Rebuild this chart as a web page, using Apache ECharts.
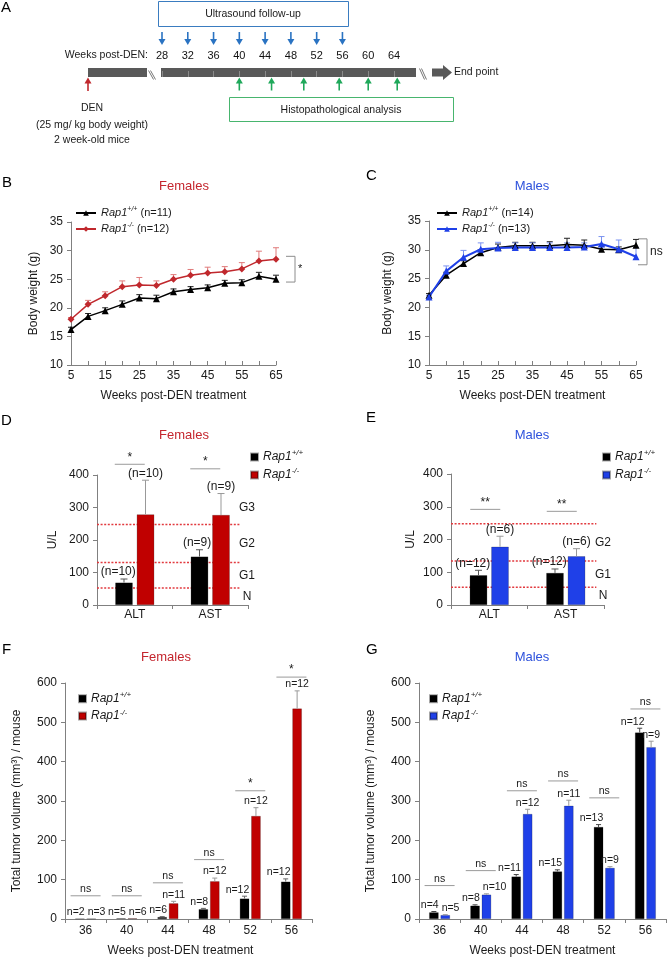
<!DOCTYPE html>
<html><head><meta charset="utf-8">
<script src="https://cdn.jsdelivr.net/npm/echarts@6/dist/echarts.min.js"></script>
<style>html,body{margin:0;padding:0;background:#fff}#c{width:667px;height:959px}</style>
</head><body><div id="c"></div>
<script>
// ---------------- DATA ----------------
const timelineWeeks = [28, 32, 36, 40, 44, 48, 52, 56, 60, 64];
const ultrasoundWeeks = [28, 32, 36, 40, 44, 48, 52, 56];
const histoWeeks = [40, 45, 50, 55.5, 60, 64.5];

const bwWeeks = [5, 10, 15, 20, 25, 30, 35, 40, 45, 50, 55, 60, 65];
const femWT = [16.2, 18.5, 19.5, 20.6, 21.7, 21.6, 22.8, 23.2, 23.5, 24.3, 24.4, 25.5, 25.0];
const femWTErr = [0.4, 0.5, 0.5, 0.6, 0.6, 0.6, 0.5, 0.5, 0.5, 0.5, 0.5, 0.7, 0.7];
const femKO = [18.0, 20.6, 22.1, 23.7, 24.0, 23.9, 25.0, 25.7, 26.1, 26.3, 26.8, 28.2, 28.5];
const femKOErr = [0.3, 0.7, 0.7, 1.0, 1.3, 0.8, 0.8, 1.0, 1.0, 0.9, 1.1, 1.7, 2.0];
const maleWT = [22.1, 25.6, 27.6, 29.5, 30.4, 30.7, 30.7, 30.7, 30.9, 30.8, 30.1, 30.0, 30.8];
const maleWTErr = [0.3, 0.5, 0.5, 0.5, 0.6, 0.6, 0.6, 0.7, 1.1, 0.9, 0.5, 0.5, 1.0];
const maleKO = [21.8, 26.3, 28.7, 30.1, 30.3, 30.4, 30.4, 30.4, 30.4, 30.5, 31.0, 30.1, 28.8];
const maleKOErr = [0.3, 0.9, 1.2, 1.1, 1.0, 0.8, 0.8, 0.8, 0.8, 0.7, 1.3, 1.6, 1.6];
const femBracket = [29.0, 24.5];
const maleBracket = [31.9, 27.4];

const liverCats = ['ALT', 'AST'];
const femLiverWT = [69, 149], femLiverWTErr = [11, 21];
const femLiverKO = [279, 277], femLiverKOErr = [105, 66];
const femLiverWTn = ['(n=10)', '(n=9)'], femLiverKOn = ['(n=10)', '(n=9)'];
const maleLiverWT = [91, 98], maleLiverWTErr = [15, 12];
const maleLiverKO = [178, 149], maleLiverKOErr = [32, 23];
const maleLiverWTn = ['(n=12)', '(n=12)'], maleLiverKOn = ['(n=6)', '(n=6)'];
const femGrades = [52, 131, 248], femGradeNames = ['N', 'G1', 'G2', 'G3'];
const maleGrades = [54, 134, 248], maleGradeNames = ['N', 'G1', 'G2'];
const femLiverSig = ['*', '*'], femLiverSigLevel = [433, 419];
const maleLiverSig = ['**', '**'], maleLiverSigLevel = [292, 286];

const tumorWeeks = ['36', '40', '44', '48', '52', '56'];
const femTumorWT = [1, 2, 5, 25, 52, 95], femTumorWTErr = [0, 0, 1, 2, 6, 7];
const femTumorKO = [1, 2, 40, 96, 262, 535], femTumorKOErr = [0, 0, 5, 8, 21, 45];
const femTumorWTn = ['n=2', 'n=5', 'n=6', 'n=8', 'n=12', 'n=12'];
const femTumorKOn = ['n=3', 'n=6', 'n=11', 'n=12', 'n=12', 'n=12'];
const femTumorSig = ['ns', 'ns', 'ns', 'ns', '*', '*'];
const femTumorSigLevel = [59, 59, 92, 151, 326, 615];
const maleTumorWT = [17, 34, 108, 121, 234, 474], maleTumorWTErr = [2, 2, 5, 4, 6, 11];
const maleTumorKO = [10, 62, 267, 288, 130, 437], maleTumorKOErr = [1, 2, 12, 14, 3, 15];
const maleTumorWTn = ['n=4', 'n=8', 'n=11', 'n=15', 'n=13', 'n=12'];
const maleTumorKOn = ['n=5', 'n=10', 'n=12', 'n=11', 'n=9', 'n=9'];
const maleTumorSig = ['ns', 'ns', 'ns', 'ns', 'ns', 'ns'];
const maleTumorSigLevel = [85, 123, 326, 351, 308, 534];

const legendLabels = {
  bWT: ['+/+', ' (n=11)'], bKO: ['-/-', ' (n=12)'],
  cWT: ['+/+', ' (n=14)'], cKO: ['-/-', ' (n=13)'],
  dWT: ['+/+', ''], dKO: ['-/-', ''], eWT: ['+/+', ''], eKO: ['-/-', ''],
  fWT: ['+/+', ''], fKO: ['-/-', ''], gWT: ['+/+', ''], gKO: ['-/-', '']
};

// ---------------- STYLE ----------------
const F = 'Liberation Sans, Arial, Helvetica, sans-serif';
const AXC = '#808080', TC = '#1a1a1a';
const RED = '#c00000', REDL = '#c0282d', REDT = '#c4262e';
const BLUE = '#1f40e8', BLUET = '#2e52dc';
const GREY = '#595959';

const mctx = document.createElement('canvas').getContext('2d');
function textW(t, fs) { mctx.font = fs + 'px ' + F; return mctx.measureText(t).width; }

const chart = echarts.init(document.getElementById('c'));

const grids = [
  {left: 162, top: 68, width: 232, height: 9},
  {left: 71, top: 222, width: 205, height: 143},
  {left: 429, top: 221, width: 207, height: 144},
  {left: 97, top: 475, width: 151, height: 130},
  {left: 451, top: 474, width: 153, height: 131},
  {left: 65, top: 683, width: 247, height: 236},
  {left: 419, top: 683, width: 247, height: 236}
];

const nameStyle = {fontSize: 12, color: TC, fontFamily: F};
function yVal(g, min, max, interval, name, gap) {
  return {type: 'value', gridIndex: g, min, max, interval,
    axisLine: {show: true, lineStyle: {color: AXC}},
    axisTick: {show: true, length: 4, lineStyle: {color: AXC}},
    axisLabel: {fontSize: 12, color: TC, margin: 8, fontFamily: F, showMinLabel: true, showMaxLabel: true},
    splitLine: {show: false}, name, nameLocation: 'middle', nameGap: gap, nameTextStyle: nameStyle};
}
function xWeeks(g) {
  return {type: 'value', gridIndex: g, min: bwWeeks[0], max: bwWeeks[bwWeeks.length - 1], interval: 5,
    axisLine: {show: true, lineStyle: {color: AXC}},
    axisTick: {show: true, inside: true, length: 4, lineStyle: {color: AXC}},
    axisLabel: {fontSize: 12, color: TC, margin: 5, fontFamily: F, showMinLabel: true, showMaxLabel: true,
      formatter: v => (v % 10 === 5 ? String(v) : '')},
    splitLine: {show: false}, name: 'Weeks post-DEN treatment', nameLocation: 'middle', nameGap: 25, nameTextStyle: nameStyle};
}
function xCat(g, cats, name, pad, margin) {
  return {type: 'category', gridIndex: g, data: cats,
    axisLine: {show: true, lineStyle: {color: AXC}},
    axisTick: {show: true, length: 4, lineStyle: {color: AXC}},
    axisLabel: {fontSize: 12, color: TC, margin, fontFamily: F},
    name, nameLocation: 'middle', nameGap: 26, nameTextStyle: Object.assign({padding: pad}, nameStyle)};
}

const xAxis = [
  {type: 'value', gridIndex: 0, min: timelineWeeks[0], max: timelineWeeks[timelineWeeks.length - 1], interval: 4,
    position: 'top', axisLine: {show: false}, axisTick: {show: true, length: 6, lineStyle: {color: '#8a8a8a'}},
    axisLabel: {fontSize: 11, color: '#111', margin: 7, fontFamily: F, showMinLabel: true, showMaxLabel: true},
    splitLine: {show: false}},
  xWeeks(1), xWeeks(2),
  xCat(3, liverCats, '', [0, 0, 0, 0], 4), xCat(4, liverCats, '', [0, 0, 0, 0], 4),
  xCat(5, tumorWeeks, 'Weeks post-DEN treatment', [0, 16, 0, 0], 6),
  xCat(6, tumorWeeks, 'Weeks post-DEN treatment', [0, 0, 0, 0], 6)
];
const yAxis = [
  {type: 'value', gridIndex: 0, min: 0, max: 1, show: false},
  yVal(1, 10, 35, 5, 'Body weight (g)', 31),
  yVal(2, 10, 35, 5, 'Body weight (g)', 35),
  yVal(3, 0, 400, 100, 'U/L', 38),
  yVal(4, 0, 400, 100, 'U/L', 34),
  yVal(5, 0, 600, 100, 'Total tumor volume (mm³) / mouse', 42),
  yVal(6, 0, 600, 100, 'Total tumor volume (mm³) / mouse', 42)
];

// ---------------- SERIES HELPERS ----------------
function arrows(weeks, color, down) {
  return {type: 'custom', xAxisIndex: 0, yAxisIndex: 0, silent: true, z: 5,
    data: weeks.map(w => [w, 0]),
    renderItem(p, api) {
      const x = api.coord([api.value(0), 0])[0];
      const cs = p.coordSys;
      let pts, line;
      if (down) {
        const y0 = cs.y - 36, y1 = cs.y - 23;
        line = {x1: x, y1: y0, x2: x, y2: y1 - 5};
        pts = [[x - 3.5, y1 - 6], [x + 3.5, y1 - 6], [x, y1]];
      } else {
        const y0 = cs.y + cs.height + 0.5, y1 = cs.y + cs.height + 13.5;
        line = {x1: x, y1: y0 + 5, x2: x, y2: y1};
        pts = [[x - 3.5, y0 + 6], [x + 3.5, y0 + 6], [x, y0]];
      }
      return {type: 'group', children: [
        {type: 'line', shape: line, style: {stroke: color, lineWidth: 1.6}},
        {type: 'polygon', shape: {points: pts}, style: {fill: color}}]};
    }};
}
function lineSeries(name, g, vals, color, symbol, width) {
  return {type: 'line', name, xAxisIndex: g, yAxisIndex: g, z: 4,
    data: bwWeeks.map((w, i) => [w, vals[i]]), symbol, symbolSize: 7,
    lineStyle: {color, width}, itemStyle: {color}};
}
function lineErr(g, vals, errs, color) {
  return {type: 'custom', xAxisIndex: g, yAxisIndex: g, z: 3, silent: true,
    data: bwWeeks.map((w, i) => [w, vals[i], errs[i]]),
    renderItem(p, api) {
      const b = api.coord([api.value(0), api.value(1)]);
      const t = api.coord([api.value(0), api.value(1) + api.value(2)]);
      return {type: 'group', children: [
        {type: 'line', shape: {x1: b[0], y1: b[1], x2: b[0], y2: t[1]}, style: {stroke: color, lineWidth: 1}},
        {type: 'line', shape: {x1: b[0] - 3, y1: t[1], x2: b[0] + 3, y2: t[1]}, style: {stroke: color, lineWidth: 1}}]};
    }};
}
function bracket(g, ys, dx, mark, fs) {
  return {type: 'custom', xAxisIndex: g, yAxisIndex: g, z: 6, silent: true,
    data: [[bwWeeks[bwWeeks.length - 1], ys[0], ys[1]]],
    renderItem(p, api) {
      const a = api.coord([api.value(0), api.value(1)]);
      const b = api.coord([api.value(0), api.value(2)]);
      const x = a[0] + dx;
      return {type: 'group', children: [
        {type: 'polyline', shape: {points: [[x - 9, a[1]], [x, a[1]], [x, b[1]], [x - 9, b[1]]]},
          style: {stroke: '#8c8c8c', lineWidth: 1, fill: null}},
        {type: 'text', x: x + 3, y: (a[1] + b[1]) / 2,
          style: {text: mark, fontSize: fs, fontFamily: F, fill: TC, align: 'left', verticalAlign: 'middle'}}]};
    }};
}
function bars(name, g, vals, color, bw, gap) {
  return {type: 'bar', name, xAxisIndex: g, yAxisIndex: g, data: vals, barWidth: bw, barGap: gap,
    itemStyle: {color, borderColor: 'rgba(0,0,0,0.35)', borderWidth: 0.6}, z: 3};
}
// error bars + n labels. Black-bar labels are right-aligned next to the partner bar;
// partner labels are nudged right only when they would collide with the black label.
function barErr(g, vals, errs, labels, side, offset, color, fs, halfBar, cap, rightPad, partner) {
  return {type: 'custom', xAxisIndex: g, yAxisIndex: g, z: 5, silent: true,
    data: vals.map((v, i) => [i, v, errs[i]]),
    renderItem(p, api) {
      const i = api.value(0), v = api.value(1), e = api.value(2);
      const b = api.coord([i, v]), t = api.coord([i, v + e]);
      const x = b[0] + side * offset;
      const ch = [];
      if (e > 0) {
        ch.push({type: 'line', shape: {x1: x, y1: b[1], x2: x, y2: t[1]}, style: {stroke: color, lineWidth: 1}});
        ch.push({type: 'line', shape: {x1: x - cap, y1: t[1], x2: x + cap, y2: t[1]}, style: {stroke: color, lineWidth: 1}});
      }
      const lab = labels[p.dataIndex];
      let lx = x, align = 'center';
      if (side < 0) { lx = x + halfBar + rightPad; align = 'right'; }
      else if (partner) {
        const pi = p.dataIndex;
        const pt = api.coord([i, partner.vals[pi] + partner.errs[pi]]);
        const pRight = pt[0] - offset + halfBar + partner.rightPad;
        const w = textW(lab, fs);
        if (Math.abs(pt[1] - t[1]) < fs + 2 && x - w / 2 < pRight + 3) lx = pRight + 3 + w / 2;
      }
      ch.push({type: 'text', x: lx, y: t[1] - 1,
        style: {text: lab, fontSize: fs, fontFamily: F, fill: TC, align, verticalAlign: 'bottom'}});
      return {type: 'group', children: ch};
    }};
}
function sigSeries(g, levels, marks, dx, hw) {
  return {type: 'custom', xAxisIndex: g, yAxisIndex: g, z: 6, silent: true,
    data: levels.map((v, i) => [i, v]),
    renderItem(p, api) {
      const c = api.coord([api.value(0), api.value(1)]);
      const x = c[0] + dx;
      const m = marks[p.dataIndex];
      return {type: 'group', children: [
        {type: 'line', shape: {x1: x - hw, y1: c[1], x2: x + hw, y2: c[1]}, style: {stroke: '#9a9a9a', lineWidth: 1}},
        {type: 'text', x, y: c[1] - 1,
          style: {text: m, fontSize: m === 'ns' ? 10.5 : 12, fontFamily: F, fill: TC, align: 'center', verticalAlign: 'bottom'}}]};
    }};
}
function gradeLines(g, thr) {
  return {type: 'custom', xAxisIndex: g, yAxisIndex: g, z: 1, silent: true,
    data: thr.map(v => [0, v]),
    renderItem(p, api) {
      const y = api.coord([0, api.value(1)])[1];
      const cs = p.coordSys;
      return {type: 'line', shape: {x1: cs.x, y1: y, x2: cs.x + cs.width * 0.95, y2: y},
        style: {stroke: '#e23a3f', lineWidth: 1.5, lineDash: [2, 1.6]}};
    }};
}
function gradeLabels(g, thr, names) {
  const mids = names.map((n, i) => {
    const lo = i === 0 ? 0 : thr[i - 1];
    const hi = i < thr.length ? thr[i] : lo + 2 * thr[0];
    return [0, (lo + hi) / 2];
  });
  return {type: 'custom', xAxisIndex: g, yAxisIndex: g, z: 6, silent: true, data: mids,
    renderItem(p, api) {
      const y = api.coord([0, api.value(1)])[1];
      const cs = p.coordSys;
      return {type: 'text', x: cs.x + cs.width - 1, y,
        style: {text: names[p.dataIndex], fontSize: 12, fontFamily: F, fill: TC, align: 'center', verticalAlign: 'middle'}};
    }};
}

const D_BW = 17.5, D_GAP = 0.23, D_OFF = (D_BW * (1 + D_GAP)) / 2;
const F_BW = 9.5, F_GAP = 0.2, F_OFF = (F_BW * (1 + F_GAP)) / 2;

const series = [
  arrows(ultrasoundWeeks, '#2a73c2', true),
  arrows(histoWeeks, '#1fa85a', false),
  // B
  lineErr(1, femWT, femWTErr, '#222'), lineErr(1, femKO, femKOErr, '#e07a7a'),
  lineSeries('bWT', 1, femWT, '#000', 'triangle', 1.5),
  lineSeries('bKO', 1, femKO, REDL, 'diamond', 1.5),
  bracket(1, femBracket, 19, '*', 11),
  // C
  lineErr(2, maleWT, maleWTErr, '#222'), lineErr(2, maleKO, maleKOErr, '#7b93f0'),
  lineSeries('cWT', 2, maleWT, '#000', 'triangle', 1.5),
  lineSeries('cKO', 2, maleKO, BLUE, 'triangle', 2),
  bracket(2, maleBracket, 11, 'ns', 12),
  // D
  gradeLines(3, femGrades), gradeLabels(3, femGrades, femGradeNames),
  bars('dWT', 3, femLiverWT, '#000', D_BW, D_GAP * 100 + '%'),
  bars('dKO', 3, femLiverKO, RED, D_BW, D_GAP * 100 + '%'),
  barErr(3, femLiverWT, femLiverWTErr, femLiverWTn, -1, D_OFF, '#555', 12, D_BW / 2, 3.5, 3),
  barErr(3, femLiverKO, femLiverKOErr, femLiverKOn, 1, D_OFF, '#999', 12, D_BW / 2, 3.5, 0,
    {vals: femLiverWT, errs: femLiverWTErr, rightPad: 3}),
  sigSeries(3, femLiverSigLevel, femLiverSig, -5, 15),
  // E
  gradeLines(4, maleGrades), gradeLabels(4, maleGrades, maleGradeNames),
  bars('eWT', 4, maleLiverWT, '#000', D_BW, D_GAP * 100 + '%'),
  bars('eKO', 4, maleLiverKO, BLUE, D_BW, D_GAP * 100 + '%'),
  barErr(4, maleLiverWT, maleLiverWTErr, maleLiverWTn, -1, D_OFF, '#555', 12, D_BW / 2, 3.5, 3),
  barErr(4, maleLiverKO, maleLiverKOErr, maleLiverKOn, 1, D_OFF, '#999', 12, D_BW / 2, 3.5, 0,
    {vals: maleLiverWT, errs: maleLiverWTErr, rightPad: 3}),
  sigSeries(4, maleLiverSigLevel, maleLiverSig, -4, 15),
  // F
  bars('fWT', 5, femTumorWT, '#000', F_BW, F_GAP * 100 + '%'),
  bars('fKO', 5, femTumorKO, RED, F_BW, F_GAP * 100 + '%'),
  barErr(5, femTumorWT, femTumorWTErr, femTumorWTn, -1, F_OFF, '#666', 10.5, F_BW / 2, 2.5, 0),
  barErr(5, femTumorKO, femTumorKOErr, femTumorKOn, 1, F_OFF, '#999', 10.5, F_BW / 2, 2.5, 0,
    {vals: femTumorWT, errs: femTumorWTErr, rightPad: 0}),
  sigSeries(5, femTumorSigLevel, femTumorSig, 0, 15),
  // G
  bars('gWT', 6, maleTumorWT, '#000', F_BW, F_GAP * 100 + '%'),
  bars('gKO', 6, maleTumorKO, BLUE, F_BW, F_GAP * 100 + '%'),
  barErr(6, maleTumorWT, maleTumorWTErr, maleTumorWTn, -1, F_OFF, '#444', 10.5, F_BW / 2, 2.5, 0),
  barErr(6, maleTumorKO, maleTumorKOErr, maleTumorKOn, 1, F_OFF, '#999', 10.5, F_BW / 2, 2.5, 0,
    {vals: maleTumorWT, errs: maleTumorWTErr, rightPad: 0}),
  sigSeries(6, maleTumorSigLevel, maleTumorSig, 0, 15)
];

function legend(names, left, top, iw, ih, fs, lh, icon) {
  const o = {data: names, left, top, orient: 'vertical', itemWidth: iw, itemHeight: ih, itemGap: 2,
    selectedMode: false, padding: 0,
    formatter: n => '{i|Rap1}{s|' + legendLabels[n][0] + '}' + (legendLabels[n][1] ? '{t|' + legendLabels[n][1] + '}' : ''),
    textStyle: {fontSize: fs, lineHeight: lh, fontFamily: F, color: TC,
      rich: {
        i: {fontStyle: 'italic', fontSize: fs, lineHeight: lh, fontFamily: F, color: TC},
        s: {fontStyle: 'italic', fontSize: Math.round(fs * 0.68), verticalAlign: 'top', lineHeight: lh, fontFamily: F, color: TC},
        t: {fontSize: fs, lineHeight: lh, fontFamily: F, color: TC}}}};
  if (icon) o.icon = icon;
  return o;
}
const legends = [
  legend(['bWT', 'bKO'], 75, 206, 20, 7, 11, 14),
  legend(['cWT', 'cKO'], 436, 206, 20, 7, 11, 14),
  legend(['dWT', 'dKO'], 250, 449, 7, 7, 12, 16, 'rect'),
  legend(['eWT', 'eKO'], 602, 449, 7, 7, 12, 16, 'rect'),
  legend(['fWT', 'fKO'], 78, 691, 7, 7, 12, 15.4, 'rect'),
  legend(['gWT', 'gKO'], 429, 691, 7, 7, 12, 15.4, 'rect')
];

// ---------------- GRAPHIC (panel A layout, titles, letters) ----------------
const g = [];
function txt(x, y, text, opt) {
  g.push({type: 'text', x, y, silent: true,
    style: Object.assign({text, fontSize: 12, fontFamily: F, fill: TC, align: 'center', verticalAlign: 'middle'}, opt || {})});
}
[['A', 1, 8], ['B', 2, 183], ['C', 366, 176], ['D', 1, 421], ['E', 366, 418], ['F', 2, 650], ['G', 366, 650]]
  .forEach(l => txt(l[1], l[2], l[0], {fontSize: 15, align: 'left', fill: '#000'}));
[['Females', 184, 186, REDT], ['Males', 532, 186, BLUET], ['Females', 184, 435, REDT],
 ['Males', 532, 435, BLUET], ['Females', 166, 657, REDT], ['Males', 532, 657, BLUET]]
  .forEach(t => txt(t[1], t[2], t[0], {fontSize: 13, fill: t[3]}));
// panel A
g.push({type: 'rect', shape: {x: 158.5, y: 1.5, width: 190, height: 25}, style: {fill: 'none', stroke: '#3a7cc0', lineWidth: 1}, silent: true});
txt(253, 14.5, 'Ultrasound follow-up', {fontSize: 10.5});
g.push({type: 'rect', shape: {x: 229.5, y: 97.5, width: 224, height: 24}, style: {fill: 'none', stroke: '#48b56e', lineWidth: 1}, silent: true});
txt(341, 110, 'Histopathological analysis', {fontSize: 10.5});
txt(148, 55, 'Weeks post-DEN:', {fontSize: 10.5, align: 'right'});
g.push({type: 'rect', shape: {x: 88, y: 68, width: 59, height: 9}, style: {fill: GREY}, silent: true});
g.push({type: 'rect', shape: {x: 161, y: 68, width: 255, height: 9}, style: {fill: GREY}, silent: true});
[[148.5, 70.5, 153.5, 79.5], [150.5, 70.5, 155.5, 79.5], [419.5, 68.5, 424.5, 79.5], [421.5, 68.5, 426.5, 79.5]]
  .forEach(s => g.push({type: 'line', shape: {x1: s[0], y1: s[1], x2: s[2], y2: s[3]}, style: {stroke: '#777', lineWidth: 1}, silent: true}));
g.push({type: 'polygon', shape: {points: [[432, 68.5], [443, 68.5], [443, 65], [452, 72.5], [443, 80], [443, 76.5], [432, 76.5]]}, style: {fill: GREY}, silent: true});
txt(454, 72.5, 'End point', {fontSize: 10.5, align: 'left'});
g.push({type: 'line', shape: {x1: 88, y1: 83, x2: 88, y2: 91}, style: {stroke: '#c0282d', lineWidth: 1.6}, silent: true});
g.push({type: 'polygon', shape: {points: [[84.5, 83.5], [91.5, 83.5], [88, 77.5]]}, style: {fill: '#c0282d'}, silent: true});
txt(92, 108, 'DEN', {fontSize: 10.5});
txt(92, 125, '(25 mg/ kg body weight)', {fontSize: 10.5});
txt(92, 140, '2 week-old mice', {fontSize: 10.5});

chart.setOption({
  animation: false,
  textStyle: {fontFamily: F},
  grid: grids,
  xAxis, yAxis, series,
  legend: legends,
  graphic: g
});
</script></body></html>
